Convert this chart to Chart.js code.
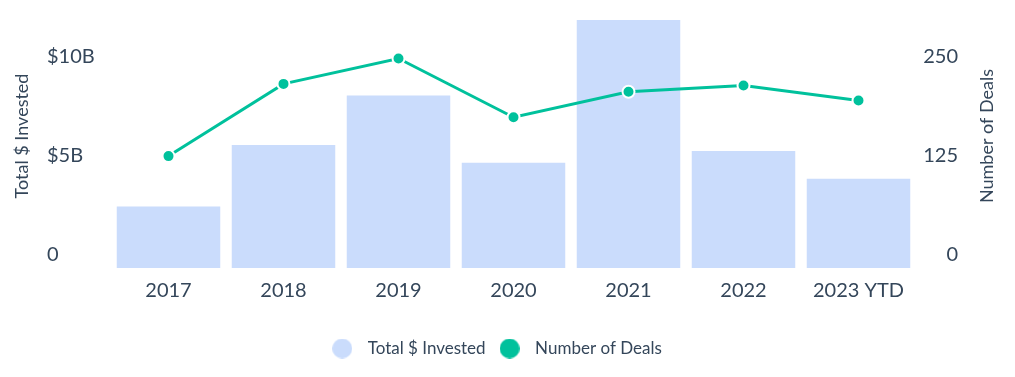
<!DOCTYPE html>
<html>
<head>
<meta charset="utf-8">
<script src="https://cdn.jsdelivr.net/npm/chart.js@4"></script>
<style>
  body { margin: 0; background: #fff; }
  #wrap { width: 1015px; height: 377px; }
</style>
</head>
<body>
<div id="wrap"><canvas id="deals-chart"></canvas></div>
<script>
// chart data
const years = ["2017", "2018", "2019", "2020", "2021", "2022", "2023 YTD"];
const invested = [3.1, 6.2, 8.7, 5.3, 12.5, 5.9, 4.5]; // $ billions
const deals = [141, 232, 264, 190, 222, 230, 211];
const leftTicks = [0, 5, 10];
const rightTicks = [0, 125, 250];

const textColor = "#34465a";
const barColor = "#cadcfc";
const lineColor = "#00c19c";
const fontFamily = "Lato, 'Open Sans', sans-serif";

// little round image so the legend dot can sit apart from its text
function legendDot(color) {
  const c = document.createElement("canvas");
  c.width = 20;
  c.height = 20;
  const g = c.getContext("2d");
  g.fillStyle = color;
  g.beginPath();
  g.arc(10, 10, 10, 0, Math.PI * 2);
  g.fill();
  return c;
}
const dots = [legendDot(barColor), legendDot(lineColor)];

// both axis titles read bottom-to-top, chart.js turns the right one the other way
const axisTitles = {
  id: "axisTitles",
  afterDraw: function (chart) {
    const c = chart.ctx;
    const mid = 136;
    c.save();
    c.fillStyle = textColor;
    c.font = "18px " + fontFamily;
    c.textAlign = "center";
    c.textBaseline = "middle";
    [["Total $ Invested", 22], ["Number of Deals", 987]].forEach(function (t) {
      c.save();
      c.translate(t[1], mid);
      c.rotate(-Math.PI / 2);
      c.fillText(t[0], 0, 0);
      c.restore();
    });
    c.restore();
  },
};

// fixed axis width, no extra room for the labels above/below
function fitY(width) {
  return function (scale) {
    scale.width = width;
    scale.paddingTop = 0;
    scale.paddingBottom = 0;
  };
}

ctx = document.getElementById("deals-chart").getContext("2d");
dealsChart = new Chart(ctx, {
  data: {
    labels: years,
    datasets: [
      {
        type: "bar",
        label: "Total $ Invested",
        data: invested,
        backgroundColor: barColor,
        yAxisID: "y",
        barPercentage: 0.9,
        categoryPercentage: 1,
        order: 2,
      },
      {
        type: "line",
        label: "Number of Deals",
        data: deals,
        borderColor: lineColor,
        backgroundColor: lineColor,
        borderWidth: 3,
        pointRadius: 6,
        pointBorderWidth: 2,
        pointBorderColor: "#fff",
        pointBackgroundColor: lineColor,
        tension: 0,
        yAxisID: "y1",
        order: 1,
      },
    ],
  },
  plugins: [axisTitles],
  options: {
    responsive: true,
    maintainAspectRatio: false,
    animation: false,
    layout: { padding: { top: 20, right: 28, bottom: 10, left: 0 } },
    plugins: {
      tooltip: { enabled: false },
      legend: {
        position: "bottom",
        labels: {
          usePointStyle: true,
          pointStyleWidth: 34,
          boxHeight: 17,
          padding: 7,
          color: textColor,
          font: { family: fontFamily, size: 17 },
          generateLabels: function (chart) {
            const items = Chart.defaults.plugins.legend.labels.generateLabels(chart);
            items.forEach(function (it) {
              it.pointStyle = dots[it.datasetIndex];
            });
            return items.sort(function (a, b) { return a.datasetIndex - b.datasetIndex; });
          },
        },
      },
    },
    scales: {
      x: {
        grid: { display: false, drawTicks: false },
        border: { display: false },
        ticks: {
          color: textColor,
          padding: 11,
          font: { family: fontFamily, size: 20 },
        },
        afterFit: function (scale) { scale.height = 65; },
      },
      y: {
        position: "left",
        min: 0,
        max: 12.5,
        grid: { display: false, drawTicks: false },
        border: { display: false },
        afterBuildTicks: function (scale) {
          scale.ticks = leftTicks.map(function (v) { return { value: v }; });
        },
        ticks: {
          mirror: true,
          padding: -64,
          labelOffset: -13,
          color: textColor,
          font: { family: fontFamily, size: 20 },
          callback: function (v) { return v === 0 ? "0" : "$" + v + "B"; },
        },
        afterFit: fitY(111),
      },
      y1: {
        position: "right",
        min: 0,
        max: 312.5,
        grid: { display: false, drawTicks: false },
        border: { display: false },
        afterBuildTicks: function (scale) {
          scale.ticks = rightTicks.map(function (v) { return { value: v }; });
        },
        ticks: {
          mirror: true,
          padding: 42,
          labelOffset: -13,
          color: textColor,
          font: { family: fontFamily, size: 20 },
        },
        afterFit: fitY(71),
      },
    },
  },
});
</script>
</body>
</html>
